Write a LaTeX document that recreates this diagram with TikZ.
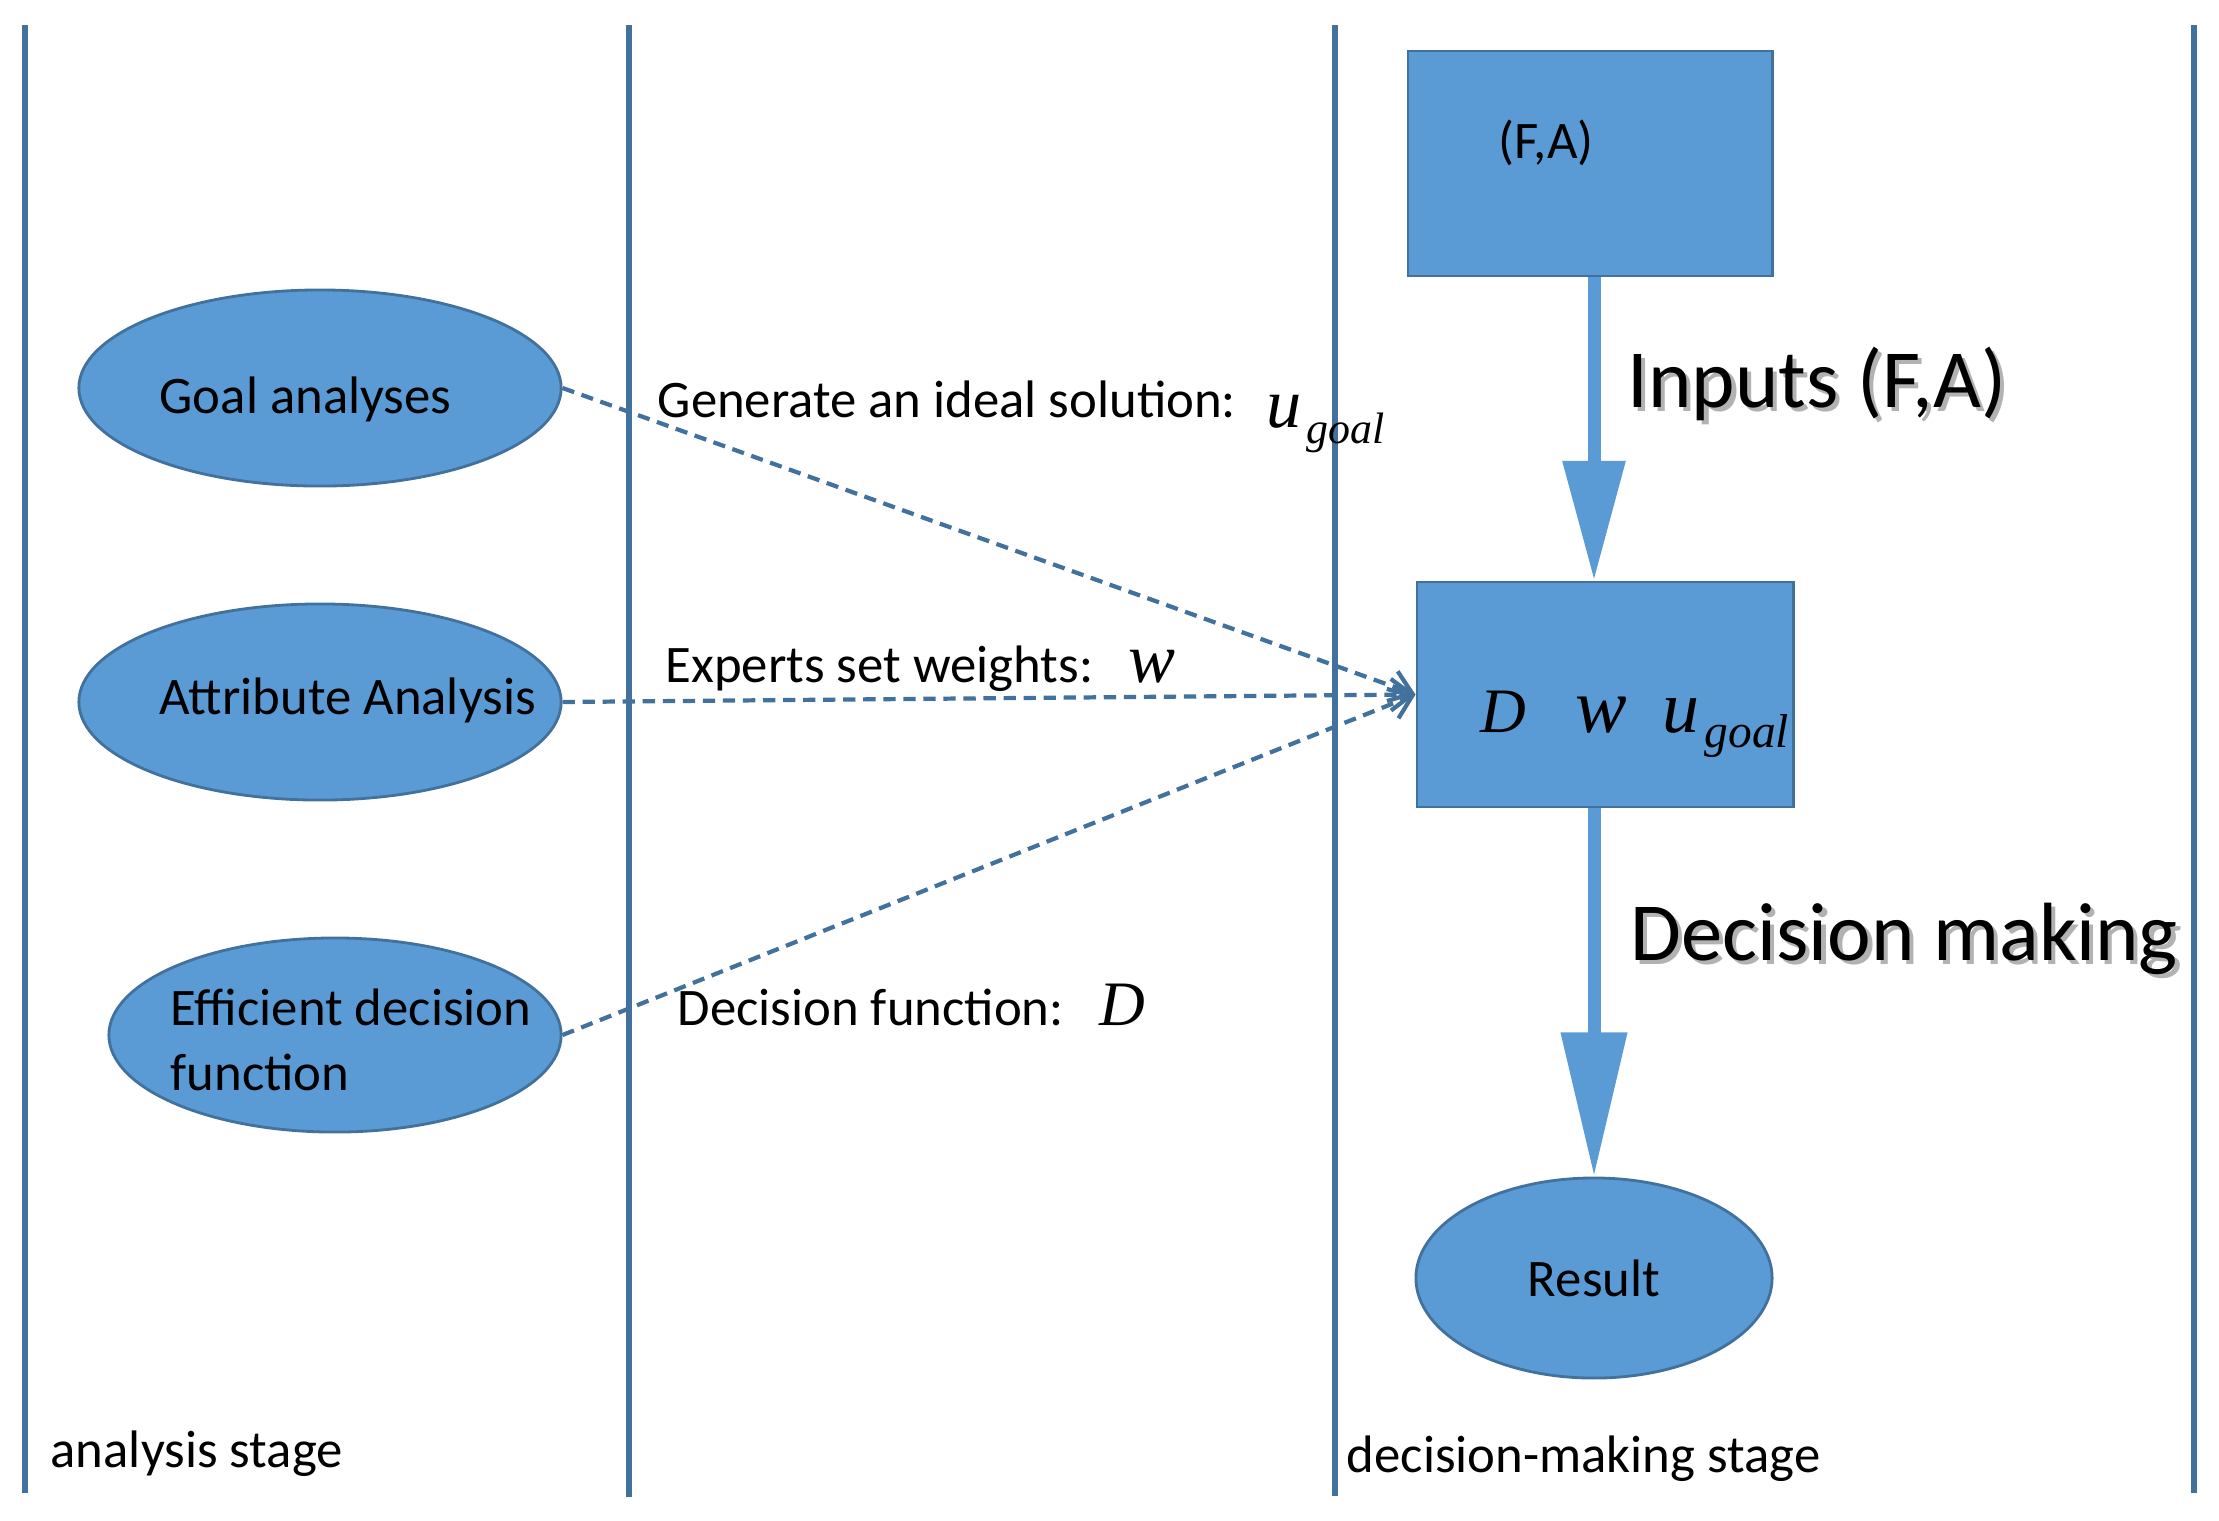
\documentclass[tikz,border=0pt]{standalone}
\usepackage{fontspec}
\setmainfont{Carlito}
\newfontfamily\timesfont{Liberation Serif}
\usetikzlibrary{arrows.meta,shapes.geometric}
\definecolor{boxfill}{HTML}{5B9BD5}
\definecolor{boxline}{HTML}{41719C}
\newcommand\mv[2][18]{{\timesfont\itshape\fontsize{#1}{#1}\selectfont #2}}
\newcommand\sub[2][12.5]{\hspace{1.5pt}\raisebox{-4.5pt}{\timesfont\itshape\fontsize{#1}{#1}\selectfont #2}}
\newcommand\shadowed[1]{\makebox[0pt][l]{\hspace{1.2pt}\raisebox{-1.2pt}{\textcolor{black!30}{#1}}}#1}

\begin{document}
\begin{tikzpicture}[x=0.01cm, y=-0.01cm,
    oval/.style={draw=boxline, line width=0.8pt, fill=boxfill, ellipse, inner sep=0pt, font=\fontsize{15}{18.5}\selectfont},
    block/.style={draw=boxline, line width=0.8pt, fill=boxfill, rectangle, inner sep=0pt, minimum height=2.25cm},
    txt/.style={anchor=base west, inner sep=0pt, font=\fontsize{15}{18.5}\selectfont},
    big/.style={anchor=base west, inner sep=0pt, font=\fontsize{23.5}{28}\selectfont},
    lane/.style={draw=boxline, line width=1.6pt},
    dep/.style={boxline, line width=1.2pt, dash pattern=on 3.5pt off 2.2pt, -{Straight Barb[length=6pt,width=9pt]}},
    flow/.style={boxfill, line width=3.7pt}
]
\useasboundingbox (0,0) rectangle (2219,1520);

% swim lanes
\foreach \x/\b in {25/1493, 629/1497, 1335/1496, 2194/1493}
  \draw[lane] (\x,25) -- (\x,\b);

% analysis stage
\node[oval, minimum width=4.82cm, minimum height=1.96cm] (goal) at (320,388) {};
\node[oval, minimum width=4.82cm, minimum height=1.96cm] (attr) at (320,702) {};
\node[oval, minimum width=4.52cm, minimum height=1.94cm] (eff) at (335,1035) {};
\node[txt] (goal-t) at (159,413) {Goal analyses};
\node[txt] (attr-t) at (159,714) {Attribute Analysis};
\node[txt, anchor=west, align=left] (eff-t) at (170,1040) {Efficient decision\\function};

% decision-making stage
\node[block, minimum width=3.64cm] (fa) at (1590,163.5) {};
\node[txt] (fa-t) at (1498,158) {(F,A)};
\node[block, minimum width=3.76cm] (dwu) at (1605,694.5) {};
\node[txt] (dwu-t) at (1480,732) {\mv{D}\hspace{14pt}\mv[22]{w}\hspace{10pt}\mv[21]{u}\sub[13.5]{goal}};
\node[oval, minimum width=3.56cm, minimum height=2cm] (res) at (1594,1278) {Result};

% main flow
\draw[flow, -{Triangle[length=34pt,width=17pt]}] (fa.south -| res) -- (dwu.north -| res);
\draw[flow, -{Triangle[length=41pt,width=18pt]}] (dwu.south -| res) -- (res.north);
\node[big] (in-t) at (1627,407) {\shadowed{Inputs (F,A)}};
\node[big] (dm-t) at (1630,960) {\shadowed{Decision making}};

% inputs from the analysis stage
\draw[dep] (goal.east) -- (dwu.west);
\draw[dep] (attr.east) -- (dwu.west);
\draw[dep] (eff.east) -- (dwu.west);
\node[txt] (gen-t) at (657,417) {Generate an ideal solution:\hspace{8.5pt}\raisebox{-3pt}{\mv[20]{u}\sub{goal}}};
\node[txt] (exp-t) at (665,682) {Experts set weights:\hspace{10pt}\mv[20]{w}};
\node[txt] (dec-t) at (677,1025) {Decision function:\hspace{10pt}\mv{D}};

% stage names
\node[txt] (ana-t) at (50,1467) {analysis stage};
\node[txt] (dms-t) at (1346,1472) {decision-making stage};
\end{tikzpicture}
\end{document}
